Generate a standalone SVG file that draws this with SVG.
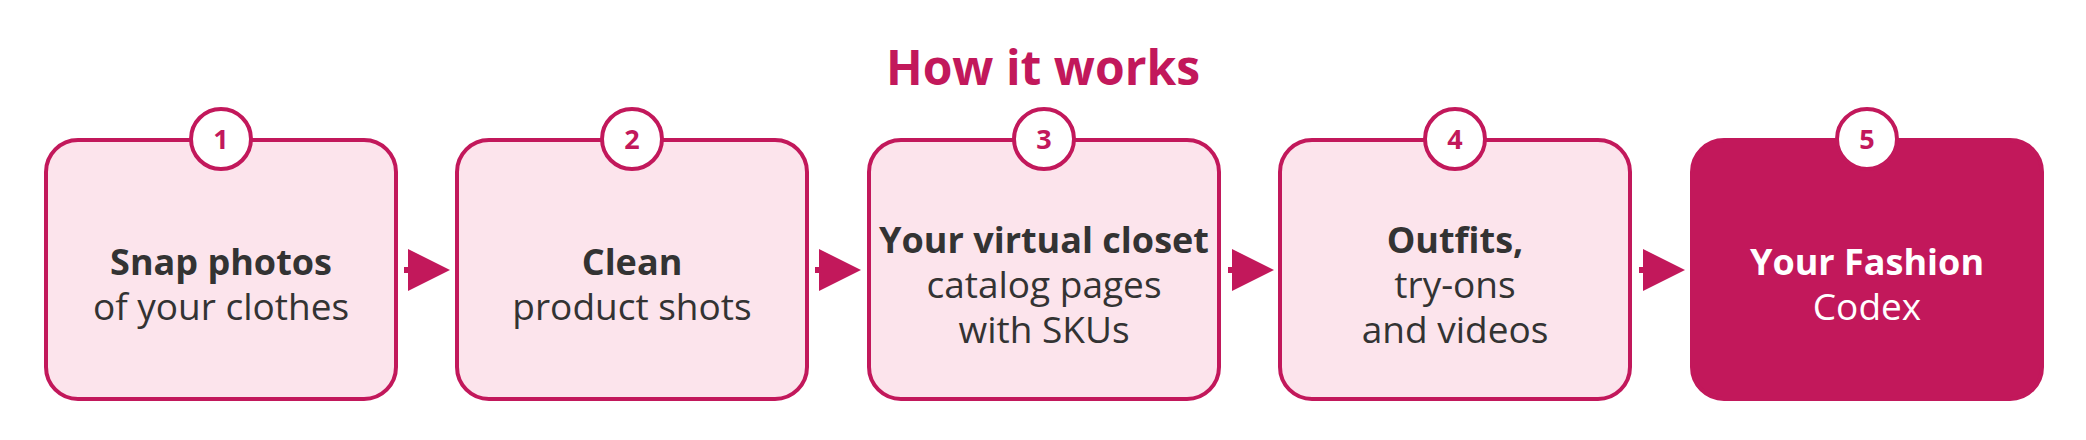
<svg xmlns="http://www.w3.org/2000/svg" width="2086" height="440" viewBox="0 0 2086 440">
  <style>
    .box { fill: #FCE4EC; stroke: #C2185B; stroke-width: 4; }
    .box-final { fill: #C2185B; stroke: #C2185B; stroke-width: 4; }
    .badge { fill: #FFFFFF; stroke: #C2185B; stroke-width: 4; }
    .num { font-family: "Open Sans", "Noto Sans", "Liberation Sans", sans-serif; font-weight: 700; font-size: 27px; fill: #C2185B; text-anchor: middle; }
    .title { font-family: "Open Sans", "Noto Sans", "Liberation Sans", sans-serif; font-weight: 700; font-size: 48px; fill: #C2185B; text-anchor: middle; }
    .lbl { font-family: "Open Sans", "Noto Sans", "Liberation Sans", sans-serif; font-size: 37px; fill: #333333; text-anchor: middle; }
    .lbl .b { font-weight: 700; font-size: 36px; }
    .lbl-w { fill: #FFFFFF; }
    .conn { stroke: #C2185B; stroke-width: 6; fill: none; }
  </style>
  <defs>
    <marker id="arrow" markerUnits="userSpaceOnUse" markerWidth="42" markerHeight="42" refX="12" refY="21" orient="auto">
      <path d="M0,0 L42,21 L0,42 Z" fill="#C2185B"/>
    </marker>
  </defs>

  <rect width="2086" height="440" fill="#FFFFFF"/>

  <text id="title" class="title" x="1043" y="85">How it works</text>

  <g id="connectors">
    <line class="conn" x1="404" y1="270" x2="420" y2="270" marker-end="url(#arrow)"/>
    <line class="conn" x1="815" y1="270" x2="831" y2="270" marker-end="url(#arrow)"/>
    <line class="conn" x1="1228" y1="270" x2="1244" y2="270" marker-end="url(#arrow)"/>
    <line class="conn" x1="1639" y1="270" x2="1655" y2="270" marker-end="url(#arrow)"/>
  </g>

  <g id="step1">
    <rect class="box" x="46" y="140" width="350" height="259" rx="32" ry="32"/>
    <circle class="badge" cx="221" cy="139" r="30"/>
    <text class="num" x="221" y="149">1</text>
    <text class="lbl" x="221" y="275"><tspan class="b">Snap photos</tspan><tspan x="221" dy="45">of your clothes</tspan></text>
  </g>

  <g id="step2">
    <rect class="box" x="457" y="140" width="350" height="259" rx="32" ry="32"/>
    <circle class="badge" cx="632" cy="139" r="30"/>
    <text class="num" x="632" y="149">2</text>
    <text class="lbl" x="632" y="275"><tspan class="b">Clean</tspan><tspan x="632" dy="45">product shots</tspan></text>
  </g>

  <g id="step3">
    <rect class="box" x="869" y="140" width="350" height="259" rx="32" ry="32"/>
    <circle class="badge" cx="1044" cy="139" r="30"/>
    <text class="num" x="1044" y="149">3</text>
    <text class="lbl" x="1044" y="253"><tspan class="b">Your virtual closet</tspan><tspan x="1044" dy="45">catalog pages</tspan><tspan x="1044" dy="45">with SKUs</tspan></text>
  </g>

  <g id="step4">
    <rect class="box" x="1280" y="140" width="350" height="259" rx="32" ry="32"/>
    <circle class="badge" cx="1455" cy="139" r="30"/>
    <text class="num" x="1455" y="149">4</text>
    <text class="lbl" x="1455" y="253"><tspan class="b">Outfits,</tspan><tspan x="1455" dy="45">try-ons</tspan><tspan x="1455" dy="45">and videos</tspan></text>
  </g>

  <g id="step5">
    <rect class="box-final" x="1692" y="140" width="350" height="259" rx="32" ry="32"/>
    <circle class="badge" cx="1867" cy="139" r="30"/>
    <text class="num" x="1867" y="149">5</text>
    <text class="lbl lbl-w" x="1867" y="275"><tspan class="b">Your Fashion</tspan><tspan x="1867" dy="45">Codex</tspan></text>
  </g>
</svg>
